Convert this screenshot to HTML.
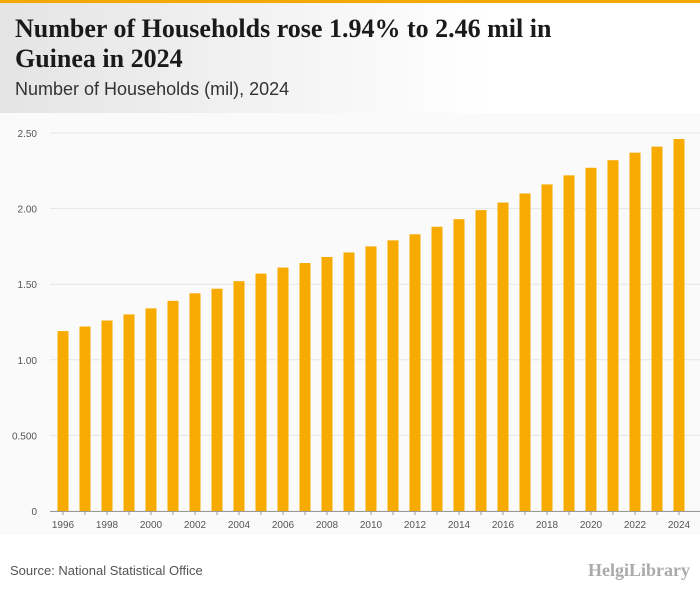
<!DOCTYPE html>
<html><head><meta charset="utf-8"><style>
body{margin:0;width:700px;height:596px;overflow:hidden;background:#fff;font-family:"Liberation Sans",sans-serif;position:relative}
#bar{position:absolute;left:0;top:0;width:700px;height:3px;background:#f5a800}
#head{position:absolute;left:0;top:3px;width:700px;height:110px;background:linear-gradient(90deg,#e4e4e4,#fff 70%)}
#title{position:absolute;left:15px;top:14px;font:bold 26px/30px "Liberation Serif",serif;color:#1a1a1a;width:600px}
#sub{position:absolute;left:15px;top:79px;font:18px "Liberation Sans",sans-serif;color:#333}
#chart{position:absolute;left:0;top:113px;width:700px;height:422px;background:#fafafa}
#src{position:absolute;left:10px;top:563px;font:13px "Liberation Sans",sans-serif;color:#555}
#logo{position:absolute;right:10px;top:560px;font:bold 18px "Liberation Serif",serif;color:#aaa}
</style></head><body>
<div id="bar"></div>
<div id="head"></div>
<div id="title">Number of Households rose 1.94% to 2.46 mil in Guinea in 2024</div>
<div id="sub">Number of Households (mil), 2024</div>
<svg id="chart" width="700" height="422"></svg>
<div id="src">Source: National Statistical Office</div>
<div id="logo">HelgiLibrary</div>
<script>
const years=[1996,1997,1998,1999,2000,2001,2002,2003,2004,2005,2006,2007,2008,2009,2010,2011,2012,2013,2014,2015,2016,2017,2018,2019,2020,2021,2022,2023,2024];
const values=[1.19,1.22,1.26,1.30,1.34,1.39,1.44,1.47,1.52,1.57,1.61,1.64,1.68,1.71,1.75,1.79,1.83,1.88,1.93,1.99,2.04,2.10,2.16,2.22,2.27,2.32,2.37,2.41,2.46];
const ticks=[0,0.5,1,1.5,2,2.5];
const tickLabels=["0","0.500","1.00","1.50","2.00","2.50"];
const svg=document.getElementById('chart');
const NS='http://www.w3.org/2000/svg';
const y0=398,yScale=151.2;
const y=v=>y0-v*yScale;
const x=i=>63+i*22;
function mk(t,a){const e=document.createElementNS(NS,t);for(const k in a)e.setAttribute(k,a[k]);svg.appendChild(e);return e;}
ticks.forEach((t,i)=>{
 const l=mk('line',{x1:50,x2:700,y1:y(t),y2:y(t),stroke:'#e6e6e6','stroke-width':1});
 
 
 const tx=mk('text',{x:37,y:y(t)+4,'text-anchor':'end','font-size':10,fill:'#555','font-family':'Liberation Sans'});
 tx.textContent=tickLabels[i];
 
 
});
const ax=mk('line',{x1:50,x2:700,y1:y0+0.5,y2:y0+0.5,stroke:'#999','stroke-width':1});


values.forEach((v,i)=>{
 const r=mk('rect',{x:x(i)-5.5,y:y(v),width:11,height:v*yScale,fill:'#f7aa00'});
 
 
 const tk=mk('line',{x1:x(i),x2:x(i),y1:y0,y2:y0+4,stroke:'#999'});
 
 
 if(i%2===0){
  const t=mk('text',{x:x(i),y:y0+17,'text-anchor':'middle','font-size':10,fill:'#555','font-family':'Liberation Sans'});
  t.textContent=years[i];
  
  
 }
});
</script>
</body></html>
